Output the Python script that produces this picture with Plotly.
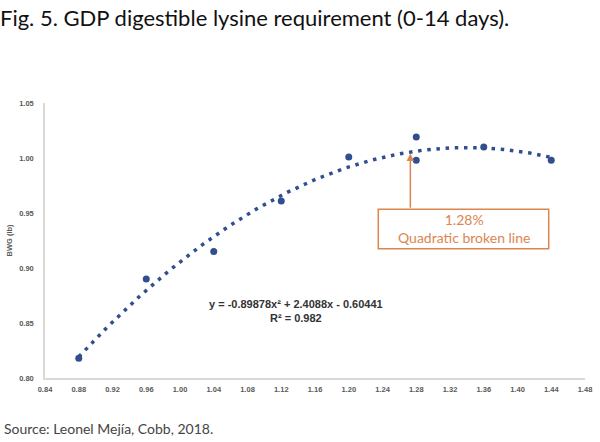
import numpy as np
import plotly.graph_objects as go

# Observed data (digestible lysine %, BWG lb)
lysine = [0.88, 0.96, 1.04, 1.12, 1.20, 1.28, 1.28, 1.36, 1.44]
bwg = [0.818, 0.890, 0.915, 0.961, 1.001, 1.019, 0.998, 1.010, 0.998]

# Quadratic trendline coefficients stated on the chart
coef_a, coef_b, coef_c = -0.89878, 2.4088, -0.60441
x_ticks = [0.84, 0.88, 0.92, 0.96, 1.00, 1.04, 1.08, 1.12, 1.16, 1.20, 1.24, 1.28, 1.32, 1.36, 1.40, 1.44, 1.48]
y_ticks = [0.80, 0.85, 0.90, 0.95, 1.00, 1.05]

blue = "#2F4F8F"
orange = "#DD8550"

xs = np.linspace(min(lysine), max(lysine), 400)
ys = coef_a * xs**2 + coef_b * xs + coef_c

fig = go.Figure()
fig.add_trace(go.Scatter(x=xs, y=ys, mode="lines",
                         line=dict(color=blue, width=3.5, dash="3.5px,5.7px"),
                         hoverinfo="skip", showlegend=False))
fig.add_trace(go.Scatter(x=lysine, y=bwg, mode="markers",
                         marker=dict(color=blue, size=7), showlegend=False))

tickfont = dict(family="Liberation Sans, Arial", size=7.5, color="#595959", weight="bold")
fig.update_xaxes(range=[0.84, 1.48], tickvals=x_ticks, ticktext=[f"{v:.2f}" for v in x_ticks],
                 showgrid=False, zeroline=False, showline=True, linecolor="#D9D9D9", linewidth=1.5,
                 ticks="", tickfont=tickfont, ticklabelstandoff=3, ticklabeloverflow="allow")
fig.update_yaxes(range=[0.80, 1.05], tickvals=y_ticks, ticktext=[f"{v:.2f}" for v in y_ticks],
                 showgrid=False, zeroline=False, showline=True, linecolor="#D9D9D9", linewidth=1.5,
                 ticks="", tickfont=tickfont, ticklabelstandoff=8,
                 title=dict(text="<b>BWG (lb)</b>", font=dict(family="Liberation Sans, Arial", size=7.5, color="#595959"), standoff=6))

# annotation box
fig.add_shape(type="rect", xref="x", yref="y", x0=1.235, x1=1.437, y0=0.9175, y1=0.9535,
              line=dict(color=orange, width=1.5), fillcolor="white", layer="above")
fig.add_annotation(x=1.336, y=0.9355, xref="x", yref="y", text="1.28%<br>Quadratic broken line",
                   showarrow=False, font=dict(family="Lato, Liberation Sans", size=14, color=orange))
fig.add_annotation(x=1.273, y=1.004, ax=1.273, ay=0.9535, xref="x", yref="y", axref="x", ayref="y",
                   text="", showarrow=True, arrowhead=2, arrowsize=1, arrowwidth=1.5, arrowcolor=orange,
                   standoff=0)
fig.add_annotation(x=1.138, y=0.861, xref="x", yref="y",
                   text="<b>y = -0.89878x² + 2.4088x - 0.60441</b><br><b>R² = 0.982</b>",
                   showarrow=False, align="center",
                   font=dict(family="Liberation Sans, Arial", size=11, color="#333333"))

fig.update_layout(
    width=600, height=442,
    margin=dict(l=44, r=8, t=103, b=64),
    paper_bgcolor="white", plot_bgcolor="white",
    title=dict(text="Fig. 5. GDP digestible lysine requirement (0-14 days).",
               x=0.0, xref="container", xanchor="left", y=1 - 18 / 442, yanchor="middle",
               font=dict(family="Lato", size=22, color="#111111")),
)
fig.add_annotation(x=-44 / 548, y=-50 / 275, xref="paper", yref="paper", xanchor="left", yanchor="middle",
                   text="Source: Leonel Mejía, Cobb, 2018.", showarrow=False,
                   font=dict(family="Lato", size=14, color="#444444"))

fig.write_html("out.html", config={"displayModeBar": False},
               post_script="document.body.style.margin='0';document.body.style.padding='0';")
